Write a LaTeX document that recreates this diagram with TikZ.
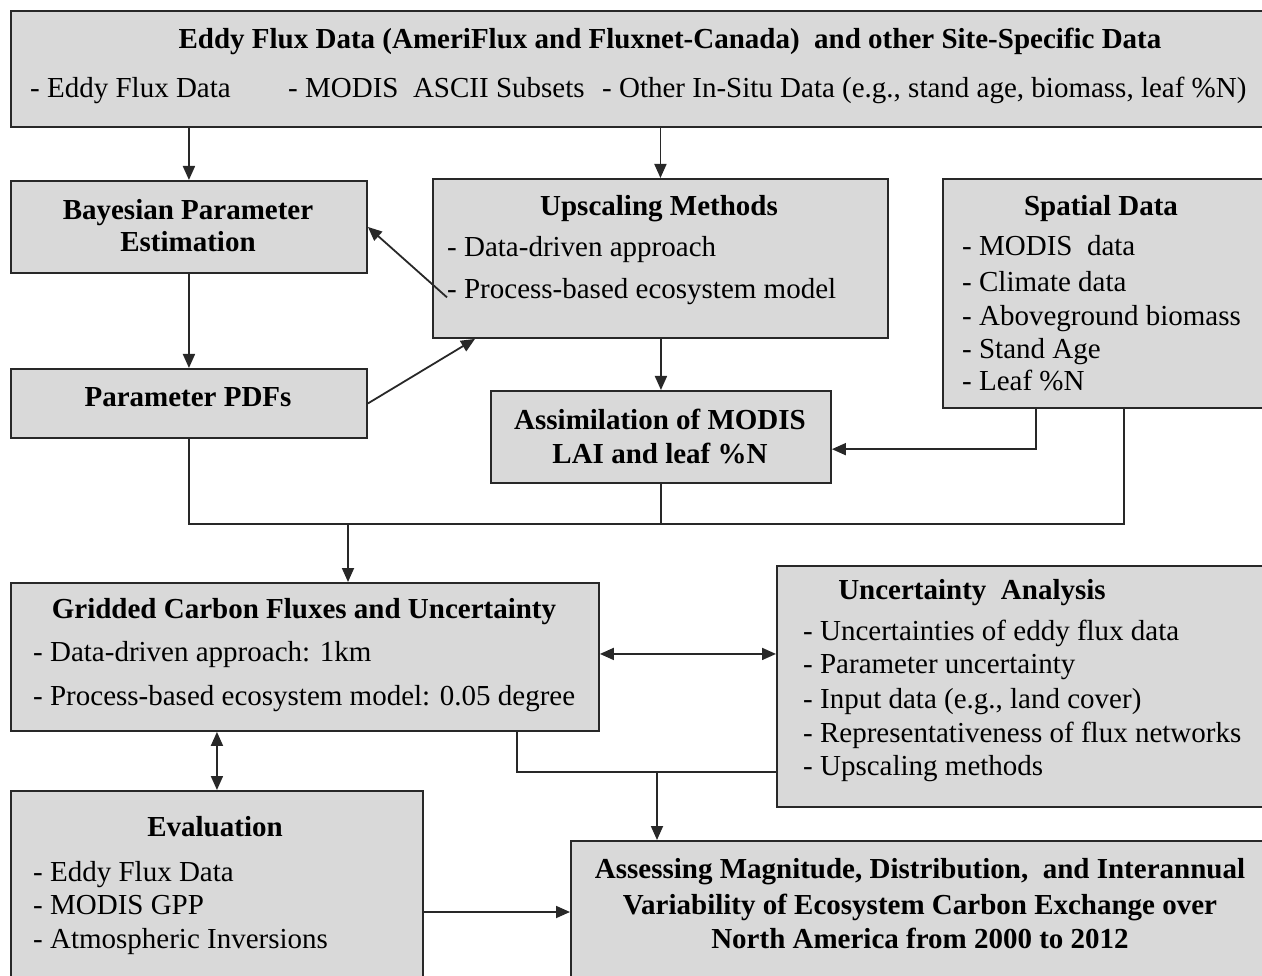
\documentclass[tikz,border=0pt]{standalone}
\usepackage{fontspec}
\setmainfont{Liberation Serif}
\usetikzlibrary{arrows.meta,calc}
\definecolor{boxfill}{RGB}{217,217,217}
\definecolor{linec}{RGB}{40,40,40}
\tikzset{
 box/.style={draw=linec, line width=1.9pt, fill=boxfill, inner sep=0pt, anchor=north west},
 conn/.style={draw=linec, line width=1.8pt},
 arr/.style={conn, -{Triangle[length=14pt,width=12pt]}},
 darr/.style={conn, {Triangle[length=14pt,width=12pt]}-{Triangle[length=14pt,width=12pt]}},
 ttl/.style={font=\fontsize{29}{34}\selectfont\bfseries, inner sep=0pt, anchor=mid},
 itm/.style={font=\fontsize{29}{34}\selectfont, inner sep=0pt, anchor=mid west},
}
\begin{document}
\begin{tikzpicture}[x=1pt,y=-1pt]
\useasboundingbox (0,0) rectangle (1262,976);
\clip (0,0) rectangle (1262,976);
% boxes
\node[box, minimum width=1260pt, minimum height=116pt] (top) at (10,10) {};
\node[box, minimum width=356pt, minimum height=92pt] (bayes) at (10,180) {};
\node[box, minimum width=455pt, minimum height=159pt] (up) at (432,178) {};
\node[box, minimum width=328pt, minimum height=229pt] (sp) at (942,178) {};
\node[box, minimum width=356pt, minimum height=69pt] (pdfs) at (10,368) {};
\node[box, minimum width=340pt, minimum height=92pt] (assim) at (490,390) {};
\node[box, minimum width=588pt, minimum height=148pt] (grid) at (10,582) {};
\node[box, minimum width=494pt, minimum height=241pt] (unc) at (776,565) {};
\node[box, minimum width=412pt, minimum height=200pt] (eval) at (10,790) {};
\node[box, minimum width=700pt, minimum height=150pt] (assess) at (570,840) {};
% texts
\begin{scope}[yshift=-6pt]
\node[ttl] (topT) at (670,40) {Eddy Flux Data (AmeriFlux and Fluxnet-Canada)\ \ and other Site-Specific Data};
\node[itm] (top1) at (30,89) {- Eddy Flux Data};
\node[itm] (top2) at (288,89) {- MODIS\ \ ASCII Subsets};
\node[itm] (top3) at (602,89) {- Other In-Situ Data (e.g., stand age, biomass, leaf \%N)};
\node[ttl] (bayesT1) at (188,211) {Bayesian Parameter};
\node[ttl] (bayesT2) at (188,243) {Estimation};
\node[ttl] (upT) at (659,207) {Upscaling Methods};
\node[itm] (up1) at (447,248) {- Data-driven approach};
\node[itm] (up2) at (447,290) {- Process-based ecosystem model};
\node[ttl] (spT) at (1101,207) {Spatial Data};
\node[itm] (sp1) at (962,247) {- MODIS\ \ data};
\node[itm] (sp2) at (962,283) {- Climate data};
\node[itm] (sp3) at (962,317) {- Aboveground biomass};
\node[itm] (sp4) at (962,350) {- Stand Age};
\node[itm] (sp5) at (962,382) {- Leaf \%N};
\node[ttl] (pdfsT) at (188,398) {Parameter PDFs};
\node[ttl] (assimT1) at (660,421) {Assimilation of MODIS};
\node[ttl] (assimT2) at (660,455) {LAI and leaf \%N};
\node[ttl] (gridT) at (304,610) {Gridded Carbon Fluxes and Uncertainty};
\node[itm] (grid1) at (33,653) {- Data-driven approach: 1km};
\node[itm] (grid2) at (33,697) {- Process-based ecosystem model: 0.05 degree};
\node[ttl] (uncT) at (972,591) {Uncertainty\ \ Analysis};
\node[itm] (unc1) at (803,632) {- Uncertainties of eddy flux data};
\node[itm] (unc2) at (803,665) {- Parameter uncertainty};
\node[itm] (unc3) at (803,700) {- Input data (e.g., land cover)};
\node[itm] (unc4) at (803,734) {- Representativeness of flux networks};
\node[itm] (unc5) at (803,767) {- Upscaling methods};
\node[ttl] (evalT) at (215,828) {Evaluation};
\node[itm] (eval1) at (33,873) {- Eddy Flux Data};
\node[itm] (eval2) at (33,906) {- MODIS GPP};
\node[itm] (eval3) at (33,940) {- Atmospheric Inversions};
\node[ttl] (assT1) at (920,870) {Assessing Magnitude, Distribution,\ \ and Interannual};
\node[ttl] (assT2) at (920,906) {Variability of Ecosystem Carbon Exchange over};
\node[ttl] (assT3) at (920,940) {North America from 2000 to 2012};
\end{scope}
% connectors
\draw[arr] (top.south -| bayes.north) -- (bayes.north);
\draw[arr] (top.south -| up.north) -- (up.north);
\draw[arr] (bayes.south) -- (pdfs.north);
\coordinate (upo) at ($(up2.west)+(0,6)$);
\draw[arr] (upo) -- (bayes.east);
\coordinate (upin) at ($(up.south west)+(43,0)$);
\draw[arr] (pdfs.east) -- (upin);
\draw[arr] (up.south -| assim.north) -- (assim.north);
\coordinate (asin) at ($(assim.south east)!0.37!(assim.north east)$);
\coordinate (spo1) at ($(sp.south west)+(94,0)$);
\draw[arr] (spo1) |- (asin);
\coordinate (mL) at ($(pdfs.south)+(0,85)$);
\coordinate (spo2) at ($(sp.south west)+(182,0)$);
\draw[conn] (pdfs.south) -- (mL) -| (spo2);
\draw[conn] (assim.south) -- (assim.south |- mL);
\coordinate (gin) at ($(grid.north west)+(338,0)$);
\draw[arr] (gin |- mL) -- (gin);
\coordinate (gr) at ($(grid.north east)!0.48!(grid.south east)$);
\draw[darr] (gr) -- (gr -| unc.west);
\draw[darr] (eval.north |- grid.south) -- (eval.north);
\coordinate (gb) at ($(grid.south west)+(507,0)$);
\coordinate (mB) at ($(gb)+(0,40)$);
\draw[conn] (gb) -- (mB) -- (mB -| unc.west);
\coordinate (ain) at ($(assess.north west)+(87,0)$);
\draw[arr] (ain |- mB) -- (ain);
\coordinate (ein) at ($(assess.north west)+(0,72)$);
\draw[arr] (ein -| eval.east) -- (ein);
\end{tikzpicture}
\end{document}
